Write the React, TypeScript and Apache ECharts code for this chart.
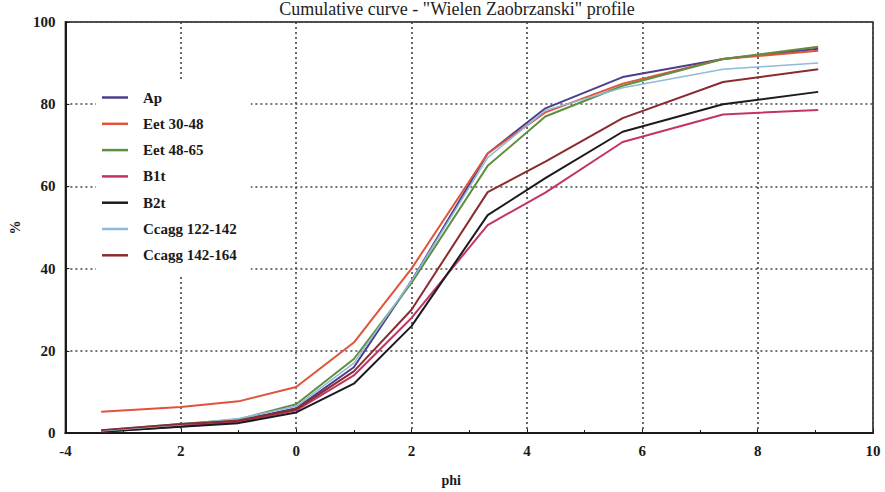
import React, { useEffect, useRef } from "react";
import * as echarts from "echarts";

const phi = [-3.38, -2, -1, 0, 1, 2, 3.32, 4.32, 5.66, 7.4, 9.05];
const seriesNames = ["Ap", "Eet 30-48", "Eet 48-65", "B1t", "B2t", "Ccagg 122-142", "Ccagg 142-164"];
const apValues = [0.5, 2.0, 3.0, 6.0, 16, 37, 68, 79, 86.6, 91, 93.5];
const eet3048Values = [5.2, 6.3, 7.7, 11.2, 22, 40, 68, 78, 85, 91, 93];
const eet4865Values = [0.6, 2.2, 3.3, 7.0, 18, 36.5, 65, 77, 84.5, 91, 94];
const b1tValues = [0.3, 1.6, 2.6, 5.5, 14, 28, 50.6, 58.5, 70.8, 77.5, 78.6];
const b2tValues = [0.3, 1.5, 2.4, 5.0, 12, 26, 53, 62, 73.3, 80, 83];
const ccagg122Values = [0.5, 2.0, 3.5, 6.5, 17, 37, 67, 78.5, 84, 88.5, 90];
const ccagg142Values = [0.7, 2.2, 3.0, 5.8, 15, 30, 58.6, 66, 76.6, 85.4, 88.5];
const seriesColors = ["#4b3f8c", "#e0533c", "#5f8f3e", "#c23469", "#1c1a1f", "#8fbadb", "#8a2b2e"];
const xTickLabels: Record<string, string> = { "-4": "-4", "-2": "2", "0": "0", "2": "2", "4": "4", "6": "6", "8": "8", "10": "10" };

const FONT = "'Liberation Serif', 'DejaVu Serif', serif";

export default function App() {
  const ref = useRef<HTMLDivElement>(null);
  useEffect(() => {
    if (!ref.current) return;
    const chart = echarts.init(ref.current, undefined, { renderer: "svg" });
    const allValues = [apValues, eet3048Values, eet4865Values, b1tValues, b2tValues, ccagg122Values, ccagg142Values];
    chart.setOption({
      animation: false,
      backgroundColor: "#ffffff",
      title: {
        text: 'Cumulative curve - "Wielen Zaobrzanski" profile',
        left: 457,
        textAlign: "center",
        top: 0,
        padding: 0,
        textStyle: { fontFamily: FONT, fontWeight: "normal", fontSize: 18, color: "#222" },
      },
      grid: {
        left: 58,
        right: 12,
        top: 22,
        bottom: 59,
        show: true,
        borderColor: "#1a1a1a",
        borderWidth: 1.5,
        backgroundColor: "transparent",
      },
      legend: {
        orient: "vertical",
        left: 96,
        top: 82,
        icon: "rect",
        itemWidth: 26,
        itemHeight: 2.5,
        itemGap: 11.3,
        backgroundColor: "#ffffff",
        padding: [8, 14, 14, 6],
        data: seriesNames,
        textStyle: { fontFamily: FONT, fontWeight: "bold", fontSize: 15, color: "#1a1a1a", padding: [0, 0, 0, 10] },
      },
      xAxis: {
        type: "value",
        min: -4,
        max: 10,
        interval: 2,
        name: "phi",
        nameLocation: "middle",
        nameGap: 40,
        nameTextStyle: { fontFamily: FONT, fontWeight: "bold", fontSize: 14, color: "#1a1a1a", padding: [0, 36, 0, 0] },
        axisLine: { show: true, onZero: false, lineStyle: { color: "#1a1a1a", width: 2 } },
        axisTick: { show: true, inside: true, length: 4, lineStyle: { color: "#1a1a1a" } },
        minorTick: { show: true, splitNumber: 2, length: 3, lineStyle: { color: "#1a1a1a" } },
        axisLabel: {
          fontFamily: FONT,
          fontWeight: "bold",
          fontSize: 15,
          color: "#1a1a1a",
          margin: 10,
          formatter: (v: number) => xTickLabels[String(v)] ?? String(v),
        },
        splitLine: { show: true, lineStyle: { color: "#444", width: 1.6, type: [2, 3] } },
      },
      yAxis: {
        type: "value",
        min: 0,
        max: 100,
        interval: 20,
        name: "%",
        nameLocation: "middle",
        nameGap: 40,
        nameRotate: 90,
        nameTextStyle: { fontFamily: FONT, fontWeight: "bold", fontSize: 14, color: "#1a1a1a" },
        axisLine: { show: true, onZero: false, lineStyle: { color: "#1a1a1a", width: 2 } },
        axisTick: { show: true, inside: true, length: 4, lineStyle: { color: "#1a1a1a" } },
        axisLabel: { fontFamily: FONT, fontWeight: "bold", fontSize: 15, color: "#1a1a1a", margin: 10 },
        splitLine: { show: true, lineStyle: { color: "#444", width: 1.6, type: [2, 3] } },
      },
      series: seriesNames.map((name, i) => ({
        name,
        type: "line",
        symbol: "none",
        color: seriesColors[i],
        lineStyle: { width: i === 5 ? 1.5 : 2, color: seriesColors[i] },
        data: phi.map((p, j) => [p, allValues[i][j]]),
      })),
    });
    return () => chart.dispose();
  }, []);
  return <div ref={ref} style={{ position: "fixed", left: 0, top: 0, width: 885, height: 492 }} />;
}
